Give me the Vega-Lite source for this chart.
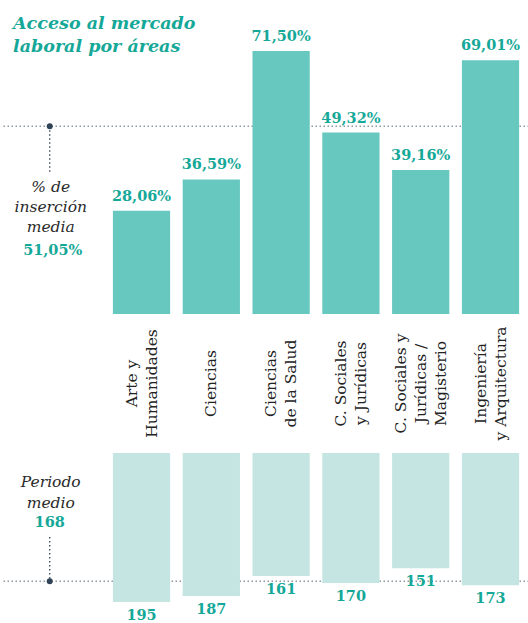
{
  "$schema": "https://vega.github.io/schema/vega-lite/v6.json",
  "padding": 0,
  "spacing": 0,
  "bounds": "flush",
  "config": {"view": {"stroke": null}},
  "title": {
    "text": ["Acceso al mercado", "laboral por áreas"],
    "anchor": "start",
    "frame": "group",
    "font": "DejaVu Serif",
    "fontStyle": "italic",
    "fontWeight": "bold",
    "fontSize": 17.5,
    "color": "#15a898",
    "lineHeight": 23,
    "offset": 0,
    "dx": 12,
    "dy": 55
  },
  "datasets": {
    "areas": [
      {"area": "Arte y|Humanidades", "insercion": 28.06, "dias": 195},
      {"area": "Ciencias", "insercion": 36.59, "dias": 187},
      {"area": "Ciencias|de la Salud", "insercion": 71.50, "dias": 161},
      {"area": "C. Sociales|y Jurídicas", "insercion": 49.32, "dias": 170},
      {"area": "C. Sociales y|Jurídicas /|Magisterio", "insercion": 39.16, "dias": 151},
      {"area": "Ingeniería|y Arquitectura", "insercion": 69.01, "dias": 173}
    ]
  },
  "resolve": {"scale": {"x": "shared"}},
  "vconcat": [
    {
      "width": 528,
      "height": 314,
      "layer": [
        {
          "data": {"values": [{}]},
          "mark": {"type": "rule", "strokeDash": [1.5, 2.5], "strokeWidth": 1.5, "color": "#8d99a3"},
          "encoding": {
            "y": {"datum": 51.05, "type": "quantitative", "scale": {"domain": [0, 85.37], "nice": false, "zero": true}, "axis": null}
          }
        },
        {
          "data": {"name": "areas"},
          "mark": {"type": "bar", "color": "#67c8c0"},
          "encoding": {
            "x": {"field": "area", "type": "nominal", "sort": null, "axis": null,
                  "scale": {"domain": ["nota", "Arte y|Humanidades", "Ciencias", "Ciencias|de la Salud", "C. Sociales|y Jurídicas", "C. Sociales y|Jurídicas /|Magisterio", "Ingeniería|y Arquitectura"], "paddingInner": 0.18, "paddingOuter": 0.3725, "align": 0.81}},
            "y": {"field": "insercion", "type": "quantitative", "axis": null}
          }
        },
        {
          "data": {"name": "areas"},
          "mark": {"type": "text", "font": "DejaVu Serif", "fontWeight": "bold", "fontSize": 14.5, "color": "#15a898", "baseline": "alphabetic", "dy": -10,
                   "text": {"expr": "replace(format(datum.insercion, '.2f'), '.', ',') + '%'"}},
          "encoding": {
            "x": {"field": "area", "type": "nominal", "sort": null, "axis": null},
            "y": {"field": "insercion", "type": "quantitative", "axis": null}
          }
        },
        {
          "data": {"values": [{}]},
          "mark": {"type": "rule", "strokeDash": [1.5, 2.5], "strokeWidth": 1.3, "color": "#2f4356", "xOffset": -22},
          "encoding": {
            "x": {"datum": "nota", "type": "nominal", "axis": null},
            "y": {"datum": 51.05, "type": "quantitative", "axis": null},
            "y2": {"datum": 38.3}
          }
        },
        {
          "data": {"values": [{}]},
          "mark": {"type": "point", "filled": true, "size": 36, "opacity": 1, "color": "#2f4356", "xOffset": -22},
          "encoding": {
            "x": {"datum": "nota", "type": "nominal", "axis": null},
            "y": {"datum": 51.05, "type": "quantitative", "axis": null}
          }
        },
        {
          "data": {"values": [{}]},
          "mark": {"type": "text", "text": ["% de", "inserción", "media"], "font": "DejaVu Serif", "fontStyle": "italic", "fontSize": 15.5, "lineHeight": 20, "color": "#2a2a2a", "baseline": "middle", "align": "center", "xOffset": -21},
          "encoding": {
            "x": {"datum": "nota", "type": "nominal", "axis": null},
            "y": {"datum": 34.5, "type": "quantitative", "axis": null}
          }
        },
        {
          "data": {"values": [{}]},
          "mark": {"type": "text", "text": "51,05%", "font": "DejaVu Serif", "fontWeight": "bold", "fontSize": 14.5, "color": "#15a898", "baseline": "middle", "align": "center", "xOffset": -19},
          "encoding": {
            "x": {"datum": "nota", "type": "nominal", "axis": null},
            "y": {"datum": 17.1, "type": "quantitative", "axis": null}
          }
        }
      ]
    },
    {
      "width": 528,
      "height": 139,
      "data": {"name": "areas"},
      "mark": {"type": "text", "angle": 270, "lineBreak": "|", "font": "DejaVu Serif", "fontSize": 15.5, "lineHeight": 20, "color": "#222222", "baseline": "middle", "align": "center",
               "dy": {"expr": "-10 * (length(split(datum.area, '|')) - 1)"}},
      "encoding": {
        "x": {"field": "area", "type": "nominal", "sort": null, "axis": null},
        "text": {"field": "area"}
      }
    },
    {
      "width": 528,
      "height": 170,
      "layer": [
        {
          "data": {"values": [{}]},
          "mark": {"type": "rule", "strokeDash": [1.5, 2.5], "strokeWidth": 1.5, "color": "#8d99a3"},
          "encoding": {
            "y": {"datum": 168, "type": "quantitative", "scale": {"domain": [0, 222.5], "nice": false, "zero": true, "reverse": true}, "axis": null}
          }
        },
        {
          "data": {"name": "areas"},
          "mark": {"type": "bar", "color": "#c4e5e2"},
          "encoding": {
            "x": {"field": "area", "type": "nominal", "sort": null, "axis": null},
            "y": {"field": "dias", "type": "quantitative", "axis": null}
          }
        },
        {
          "data": {"name": "areas"},
          "mark": {"type": "text", "font": "DejaVu Serif", "fontWeight": "bold", "fontSize": 14.5, "color": "#15a898", "baseline": "alphabetic", "dy": 18},
          "encoding": {
            "x": {"field": "area", "type": "nominal", "sort": null, "axis": null},
            "y": {"field": "dias", "type": "quantitative", "axis": null},
            "text": {"field": "dias", "type": "quantitative"}
          }
        },
        {
          "data": {"values": [{}]},
          "mark": {"type": "rule", "strokeDash": [1.5, 2.5], "strokeWidth": 1.3, "color": "#2f4356", "xOffset": -22},
          "encoding": {
            "x": {"datum": "nota", "type": "nominal", "axis": null},
            "y": {"datum": 110, "type": "quantitative", "axis": null},
            "y2": {"datum": 168}
          }
        },
        {
          "data": {"values": [{}]},
          "mark": {"type": "point", "filled": true, "size": 36, "opacity": 1, "color": "#2f4356", "xOffset": -22},
          "encoding": {
            "x": {"datum": "nota", "type": "nominal", "axis": null},
            "y": {"datum": 168, "type": "quantitative", "axis": null}
          }
        },
        {
          "data": {"values": [{}]},
          "mark": {"type": "text", "text": ["Periodo", "medio"], "font": "DejaVu Serif", "fontStyle": "italic", "fontSize": 15.5, "lineHeight": 21, "color": "#2a2a2a", "baseline": "middle", "align": "center", "xOffset": -21},
          "encoding": {
            "x": {"datum": "nota", "type": "nominal", "axis": null},
            "y": {"datum": 38.0, "type": "quantitative", "axis": null}
          }
        },
        {
          "data": {"values": [{}]},
          "mark": {"type": "text", "text": "168", "font": "DejaVu Serif", "fontWeight": "bold", "fontSize": 14.5, "color": "#15a898", "baseline": "middle", "align": "center", "xOffset": -22},
          "encoding": {
            "x": {"datum": "nota", "type": "nominal", "axis": null},
            "y": {"datum": 91.6, "type": "quantitative", "axis": null}
          }
        }
      ]
    }
  ]
}
